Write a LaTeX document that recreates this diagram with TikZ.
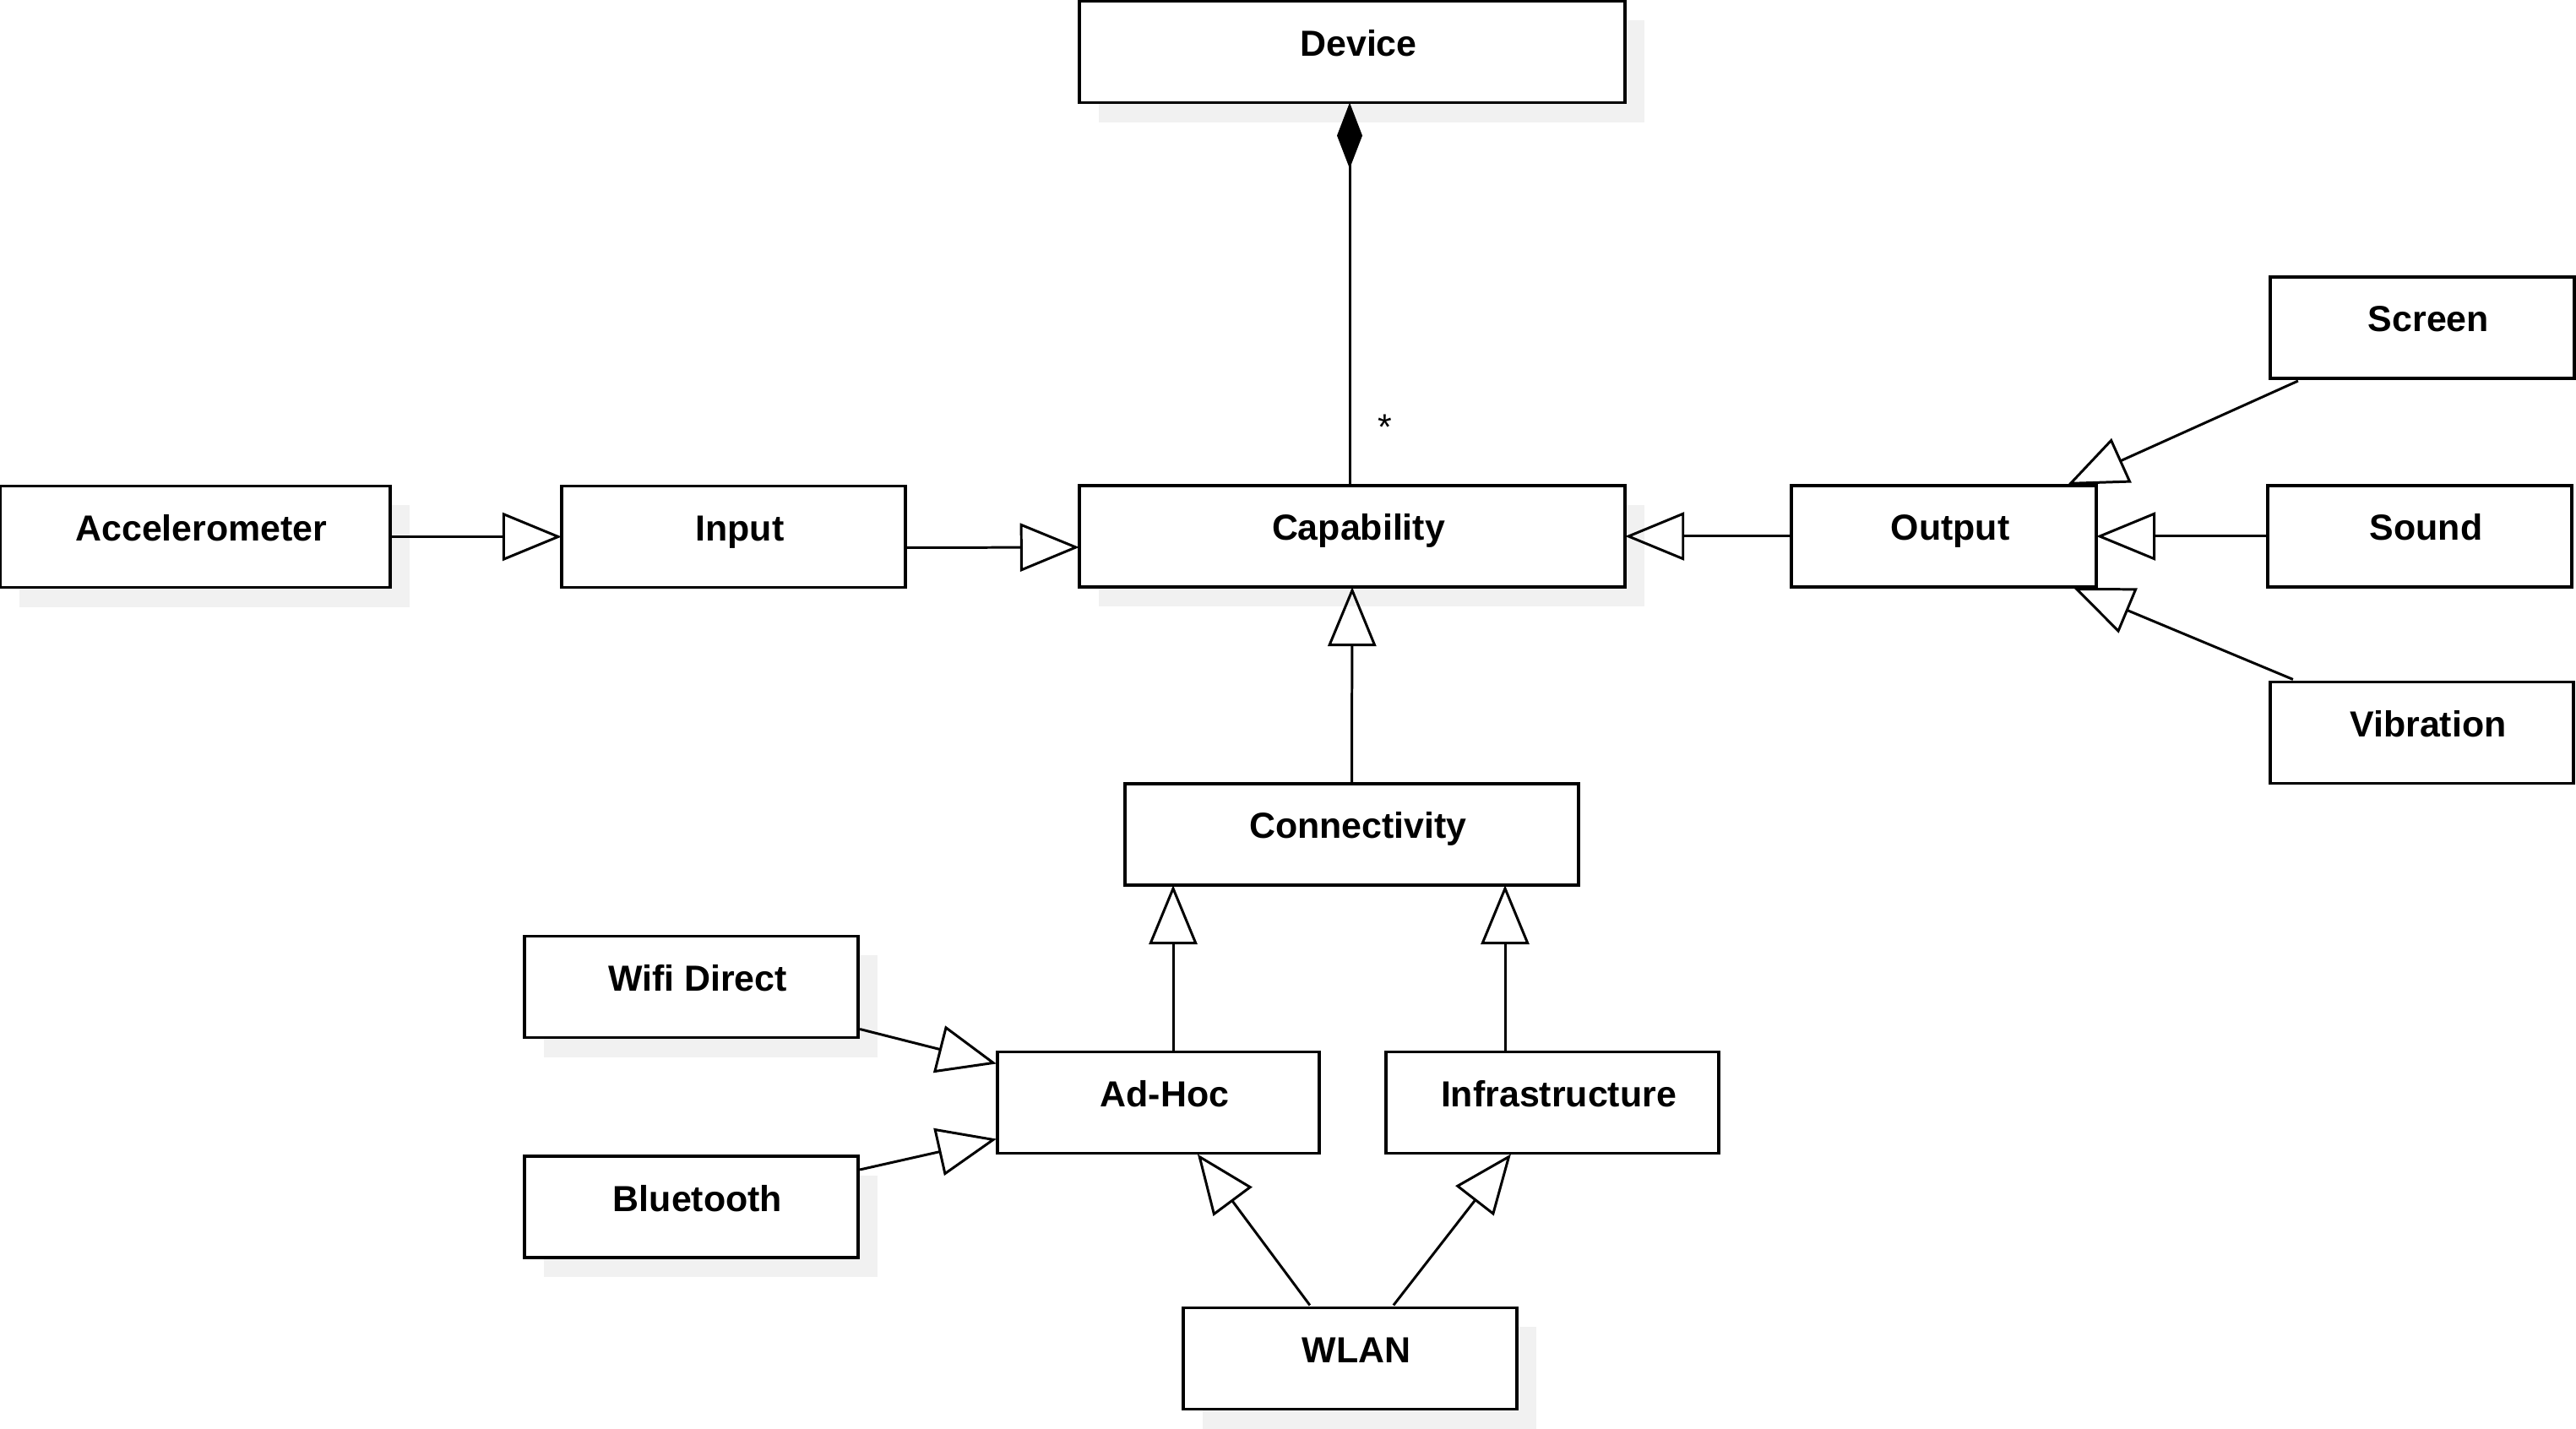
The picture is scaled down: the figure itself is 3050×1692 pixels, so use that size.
\documentclass[tikz,border=0pt]{standalone}
\usepackage{fontspec}
\setmainfont{Liberation Sans}
\usetikzlibrary{arrows.meta,calc,shadows}
\definecolor{shadowgray}{HTML}{F1F1F1}
\begin{document}
\begin{tikzpicture}[x=0.01cm,y=-0.01cm,
  box/.style={draw=black, line width=1pt, fill=white, rectangle, outer sep=0pt, inner sep=0pt,
    minimum height=1.2cm, font=\fontsize{12.2}{14}\bfseries\selectfont, text height=0.3cm, text depth=0.2cm,
    execute at begin node={\hspace*{0.15cm}}},
  shadowed/.style={general shadow={fill=shadowgray, draw=none, shadow xshift=0.23cm, shadow yshift=-0.23cm}},
  gen/.style={line width=0.85pt, -{Triangle[open, length=0.7cm, width=0.57cm, line width=0.85pt]}},
  comp/.style={line width=0.85pt, {Diamond[length=0.78cm, width=0.3cm, fill=black]}-}
]
\useasboundingbox (0,0) rectangle (3050,1692);

% boxes
\node[box, shadowed, minimum width=6.46cm] (device) at (1601,61.5) {Device};
\node[box, shadowed, minimum width=6.46cm] (capability) at (1601,635) {Capability};
\node[box, shadowed, minimum width=4.62cm] (acc) at (231,635.5) {Accelerometer};
\node[box, minimum width=4.07cm] (input) at (868.5,635.5) {Input};
\node[box, minimum width=3.61cm] (output) at (2301.5,635) {Output};
\node[box, minimum width=3.60cm] (screen) at (2868,388) {Screen};
\node[box, minimum width=3.60cm] (sound) at (2865,635) {Sound};
\node[box, minimum width=3.59cm] (vibration) at (2867.5,867.5) {Vibration};
\node[box, minimum width=5.37cm] (connectivity) at (1600.5,988) {Connectivity};
\node[box, shadowed, minimum width=3.95cm] (wifi) at (818.5,1168.5) {Wifi Direct};
\node[box, shadowed, minimum width=3.95cm] (bluetooth) at (818.5,1429) {Bluetooth};
\node[box, minimum width=3.81cm] (adhoc) at (1371.5,1305.5) {Ad-Hoc};
\node[box, minimum width=3.94cm] (infra) at (1838,1305.5) {Infrastructure};
\node[box, shadowed, minimum width=3.95cm] (wlan) at (1598.5,1608.5) {WLAN};

% multiplicity
\node[anchor=base, inner sep=0pt, font=\fontsize{12.2}{14}\selectfont] (star) at (1640,521) {*};

% connectors
\draw[comp] ($(device.south)+(-3,0)$) -- ($(capability.north)+(-3,0)$);
\draw[gen] (acc.east) -- (input.west);
\draw[gen] ($(input.east)+(0,13)$) -- ($(capability.west)+(0,13)$);
\draw[gen] (output.west) -- (capability.east);
\draw[gen] (sound.west) -- (output.east);
\draw[gen] ($(screen.south west)+(33,3)$) -- ($(output.north east)+(-34,-1)$);
\draw[gen] ($(vibration.north west)+(27,-3)$) -- ($(output.south east)+(-27,1)$);
\draw[gen] (connectivity.north) -- (capability.south);
\draw[gen] ($(adhoc.north)+(17.5,0)$) -- ($(connectivity.south)+(-211.5,0)$);
\draw[gen] ($(infra.north)+(-56,0)$) -- ($(connectivity.south)+(181.5,0)$);
\draw[gen] ($(wifi.south east)+(2,-10)$) -- ($(adhoc.north west)+(-1,14)$);
\draw[gen] ($(bluetooth.north east)+(2,16)$) -- ($(adhoc.south west)+(-1,-17)$);
\draw[gen] ($(wlan.north west)+(150,-3)$) -- ($(adhoc.south west)+(237,1)$);
\draw[gen] ($(wlan.north west)+(249,-3)$) -- ($(infra.south west)+(148,1)$);
\end{tikzpicture}
\end{document}
